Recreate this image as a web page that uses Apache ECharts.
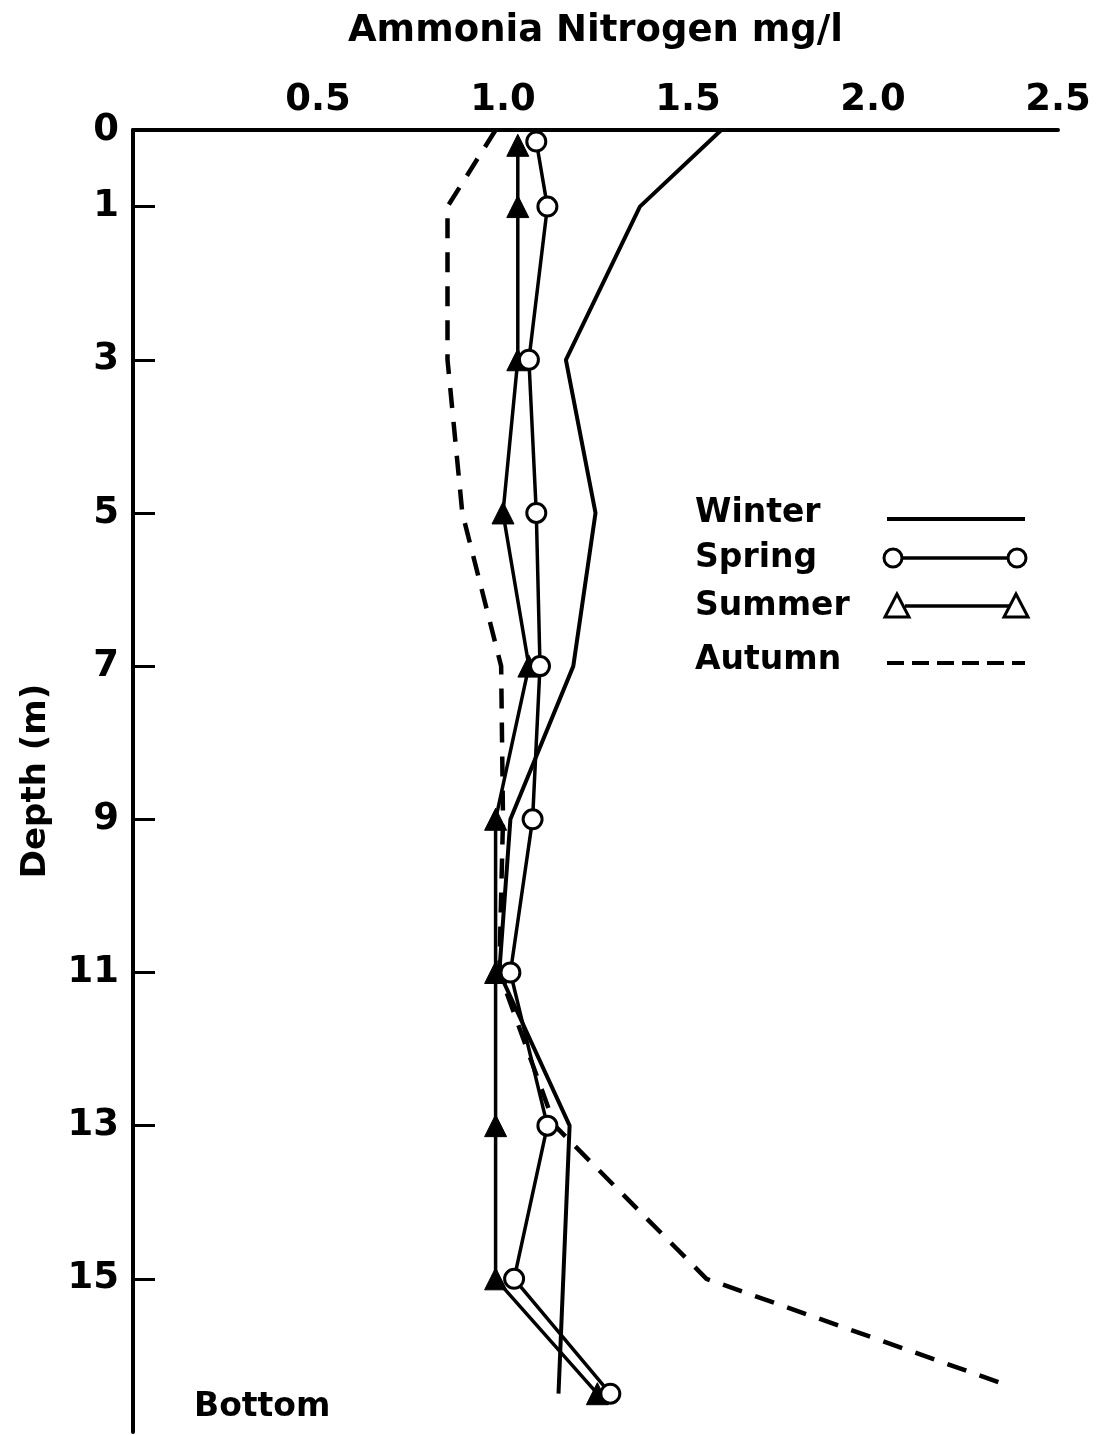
<!DOCTYPE html>
<html>
<head>
<meta charset="utf-8">
<script src="https://cdn.jsdelivr.net/npm/echarts@6/dist/echarts.min.js"></script>
<style>
html,body{margin:0;padding:0;background:#fff;}
#chart{width:1100px;height:1435px;}
</style>
</head>
<body>
<div id="chart"></div>
<script>
// ---- data (ammonia nitrogen mg/l vs depth m) ----
const xTicks = [0.5, 1.0, 1.5, 2.0, 2.5];
const depthLabels = [0, 1, 3, 5, 7, 9, 11, 13, 15];
const depthTicks = [1, 3, 5, 7, 9, 11, 13, 15];

const winterDepth = [0, 1, 3, 5, 7, 9, 11, 13, 16.5];
const winterNH3   = [1.59, 1.37, 1.17, 1.25, 1.19, 1.02, 0.99, 1.18, 1.15];

const springDepth = [0.15, 1, 3, 5, 7, 9, 11, 13, 15, 16.5];
const springNH3   = [1.09, 1.12, 1.07, 1.09, 1.10, 1.08, 1.02, 1.12, 1.03, 1.29];

const summerDepth = [0.2, 1, 3, 5, 7, 9, 11, 13, 15, 16.5];
const summerNH3   = [1.04, 1.04, 1.04, 1.00, 1.07, 0.98, 0.98, 0.98, 0.98, 1.255];

const autumnDepth = [0, 1, 3, 5, 7, 9, 11, 13, 15, 16.35];
const autumnNH3   = [0.98, 0.85, 0.85, 0.89, 0.995, 1.00, 0.99, 1.14, 1.55, 2.34];

const seasons = ['Winter', 'Spring', 'Summer', 'Autumn'];

function pairs(xs, ds) { return xs.map((v, i) => [v, ds[i]]); }

const FONT = 'DejaVu Sans';
const chart = echarts.init(document.getElementById('chart'), null, {renderer: 'canvas'});

const legendX = 695, lineX0 = 887, lineX1 = 1025;
const legendY = [513, 558, 606, 660];
const txtFont = 'bold 33px "' + FONT + '"';

const option = {
  animation: false,
  backgroundColor: '#fff',
  grid: {left: 133, right: 42, top: 130, bottom: 3, containLabel: false},
  xAxis: {
    type: 'value', position: 'top', min: 0, max: 2.5, interval: 0.5,
    name: 'Ammonia Nitrogen mg/l', nameLocation: 'middle', nameGap: 80,
    nameTextStyle: {fontFamily: FONT, fontSize: 37, fontWeight: 'bold', color: '#000'},
    axisLine: {show: true, onZero: false, lineStyle: {color: '#000', width: 4}},
    axisTick: {show: false},
    splitLine: {show: false},
    axisLabel: {
      customValues: xTicks,
      margin: 11, color: '#000', fontFamily: FONT, fontSize: 37, fontWeight: 'bold',
      formatter: v => v.toFixed(1)
    }
  },
  yAxis: {
    type: 'value', inverse: true, min: 0, max: 17,
    name: 'Depth (m)', nameLocation: 'middle', nameGap: 80, nameRotate: 90,
    nameTextStyle: {fontFamily: FONT, fontSize: 34, fontWeight: 'bold', color: '#000'},
    axisLine: {show: true, onZero: false, lineStyle: {color: '#000', width: 4}},
    axisTick: {show: true, inside: true, length: 22, customValues: depthTicks, lineStyle: {color: '#000', width: 3}},
    splitLine: {show: false},
    axisLabel: {customValues: depthLabels, margin: 14, color: '#000', fontFamily: FONT, fontSize: 37, fontWeight: 'bold'}
  },
  series: [
    {
      name: seasons[0], type: 'line', data: pairs(winterNH3, winterDepth),
      showSymbol: false, symbol: 'none',
      lineStyle: {color: '#000', width: 4}
    },
    {
      name: seasons[1], type: 'line', data: pairs(springNH3, springDepth),
      symbol: 'circle', symbolSize: 19, showAllSymbol: true, z: 4,
      itemStyle: {color: '#fff', borderColor: '#000', borderWidth: 3},
      lineStyle: {color: '#000', width: 3.5}
    },
    {
      name: seasons[2], type: 'line', data: pairs(summerNH3, summerDepth),
      symbol: 'triangle', symbolSize: [22, 22], showAllSymbol: true, z: 3,
      itemStyle: {color: '#000', borderColor: '#000', borderWidth: 1},
      lineStyle: {color: '#000', width: 3.5}
    },
    {
      name: seasons[3], type: 'line', data: pairs(autumnNH3, autumnDepth),
      symbol: 'none',
      lineStyle: {color: '#000', width: 4.5, type: [20, 14]}
    }
  ],
  graphic: [
    {type: 'text', left: 194, top: 1391, style: {text: 'Bottom', font: txtFont, fill: '#000'}},
    // legend texts
    ...seasons.map((s, i) => ({
      type: 'text', x: legendX, y: legendY[i],
      style: {text: s, font: txtFont, fill: '#000', textVerticalAlign: 'middle', verticalAlign: 'middle'}
    })),
    // winter
    {type: 'line', shape: {x1: lineX0, y1: legendY[0] + 6, x2: lineX1, y2: legendY[0] + 6}, style: {stroke: '#000', lineWidth: 4}},
    // spring
    {type: 'line', shape: {x1: 893, y1: legendY[1], x2: 1017, y2: legendY[1]}, style: {stroke: '#000', lineWidth: 3.5}},
    {type: 'circle', shape: {cx: 893, cy: legendY[1], r: 9}, style: {fill: '#fff', stroke: '#000', lineWidth: 3}},
    {type: 'circle', shape: {cx: 1017, cy: legendY[1], r: 9}, style: {fill: '#fff', stroke: '#000', lineWidth: 3}},
    // summer
    {type: 'line', shape: {x1: 905, y1: legendY[2], x2: 1010, y2: legendY[2]}, style: {stroke: '#000', lineWidth: 3.5}},
    {type: 'polygon', shape: {points: [[897, legendY[2] - 12], [885, legendY[2] + 11], [909, legendY[2] + 11]]}, style: {fill: '#fff', stroke: '#000', lineWidth: 3}},
    {type: 'polygon', shape: {points: [[1016, legendY[2] - 12], [1004, legendY[2] + 11], [1028, legendY[2] + 11]]}, style: {fill: '#fff', stroke: '#000', lineWidth: 3}},
    // autumn
    {type: 'line', shape: {x1: lineX0, y1: legendY[3] + 3, x2: lineX1, y2: legendY[3] + 3}, style: {stroke: '#000', lineWidth: 4, lineDash: [17, 8]}}
  ]
};
chart.setOption(option);
</script>
</body>
</html>
